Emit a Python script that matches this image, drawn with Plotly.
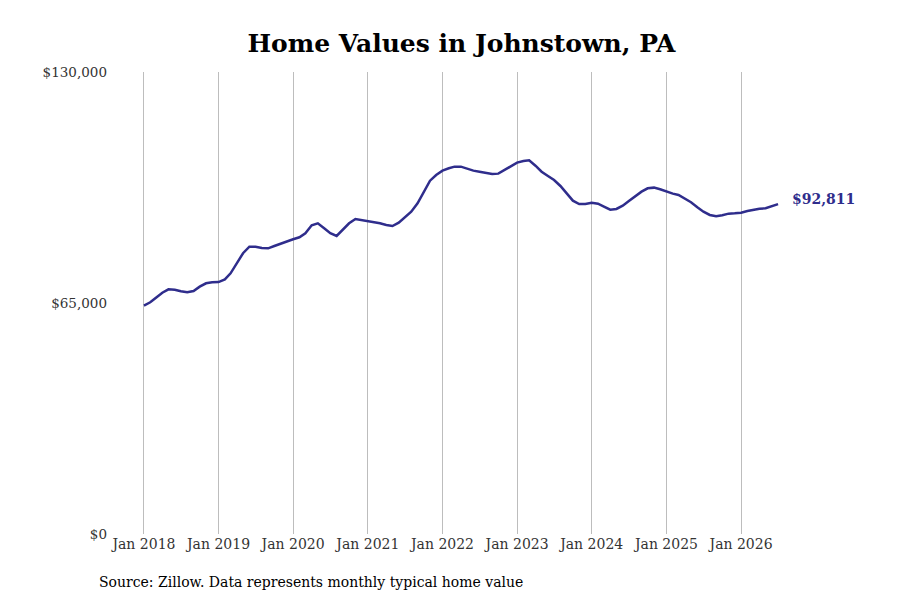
import pandas as pd
import plotly.graph_objects as go

# monthly typical home value, Jan 2018 - Jul 2026
months = pd.date_range("2018-01-01", "2026-07-01", freq="MS")
values = [
    64250, 65200, 66500, 67900, 68850, 68750, 68300, 68000, 68380, 69600, 70550, 70830,
    70900, 71660, 73350, 76170, 79000, 80850, 80850, 80480, 80390, 81040, 81700, 82450,
    82930, 83490, 84620, 86860, 87430, 86020, 84620, 83860, 85550, 87430, 88640, 88360,
    88000, 87900, 87430, 86950, 86670, 87600, 89000, 90700, 93060, 96330, 99420, 101020,
    102240, 102900, 103360, 103360, 102710, 102240, 101950, 101670, 101300, 101400, 102430, 103560,
    104490, 104960, 105150, 103640, 101950, 100740, 99600, 97930, 95680, 93800, 92860, 92860,
    93230, 92950, 92110, 91260, 91460, 92390, 93710, 95110, 96330, 97270, 97460, 97000,
    96330, 95770, 95400, 94460, 93340, 91930, 90700, 89770, 89400, 89680, 90140, 90240,
    90420, 90890, 91260, 91540, 91650, 92300, 92811,
]

year_ticks = pd.date_range("2018-01-01", "2026-01-01", freq="YS")
year_labels = [f"Jan {d.year}" for d in year_ticks]
y_ticks = [0, 65000, 130000]
y_labels = ["$0", "$65,000", "$130,000"]

line_color = "#2f2d8c"
serif = "DejaVu Serif"

fig = go.Figure(
    go.Scatter(
        x=months,
        y=values,
        mode="lines",
        line=dict(color=line_color, width=2.5),
        hoverinfo="skip",
    )
)

# end-of-line value label
fig.add_annotation(
    x=months[-1],
    y=values[-1],
    text=f"${values[-1]:,}",
    showarrow=False,
    xanchor="left",
    xshift=12,
    yshift=5,
    font=dict(family=serif, size=14, color=line_color, weight="bold"),
)

fig.add_annotation(
    text="Source: Zillow. Data represents monthly typical home value",
    xref="paper", yref="paper",
    x=-0.0174, y=-0.104,
    xanchor="left", yanchor="middle",
    showarrow=False,
    font=dict(family=serif, size=14, color="#000000"),
)

fig.update_layout(
    width=900,
    height=600,
    title=dict(
        text="<b>Home Values in Johnstown, PA</b>",
        x=0.5039, xanchor="center",
        y=0.9417, yanchor="middle",
        font=dict(family=serif, size=25, color="#000000"),
    ),
    showlegend=False,
    plot_bgcolor="white",
    paper_bgcolor="white",
    margin=dict(l=102, r=48, t=64, b=74),
    font=dict(family=serif, size=13, color="#333333"),
)

fig.update_xaxes(
    range=["2017-07-19", "2027-08-06"],
    tickvals=year_ticks,
    ticktext=year_labels,
    showgrid=True,
    gridcolor="#bdbdbd",
    gridwidth=1,
    zeroline=False,
    showline=False,
    ticks="",
    tickfont=dict(family=serif, size=14, color="#333333"),
)

fig.update_yaxes(
    range=[0, 130000],
    tickvals=y_ticks,
    ticktext=y_labels,
    showgrid=False,
    zeroline=False,
    showline=False,
    ticks="",
    ticklabelstandoff=2,
    tickfont=dict(family=serif, size=13.5, color="#333333"),
)

fig.write_html("out.html")
